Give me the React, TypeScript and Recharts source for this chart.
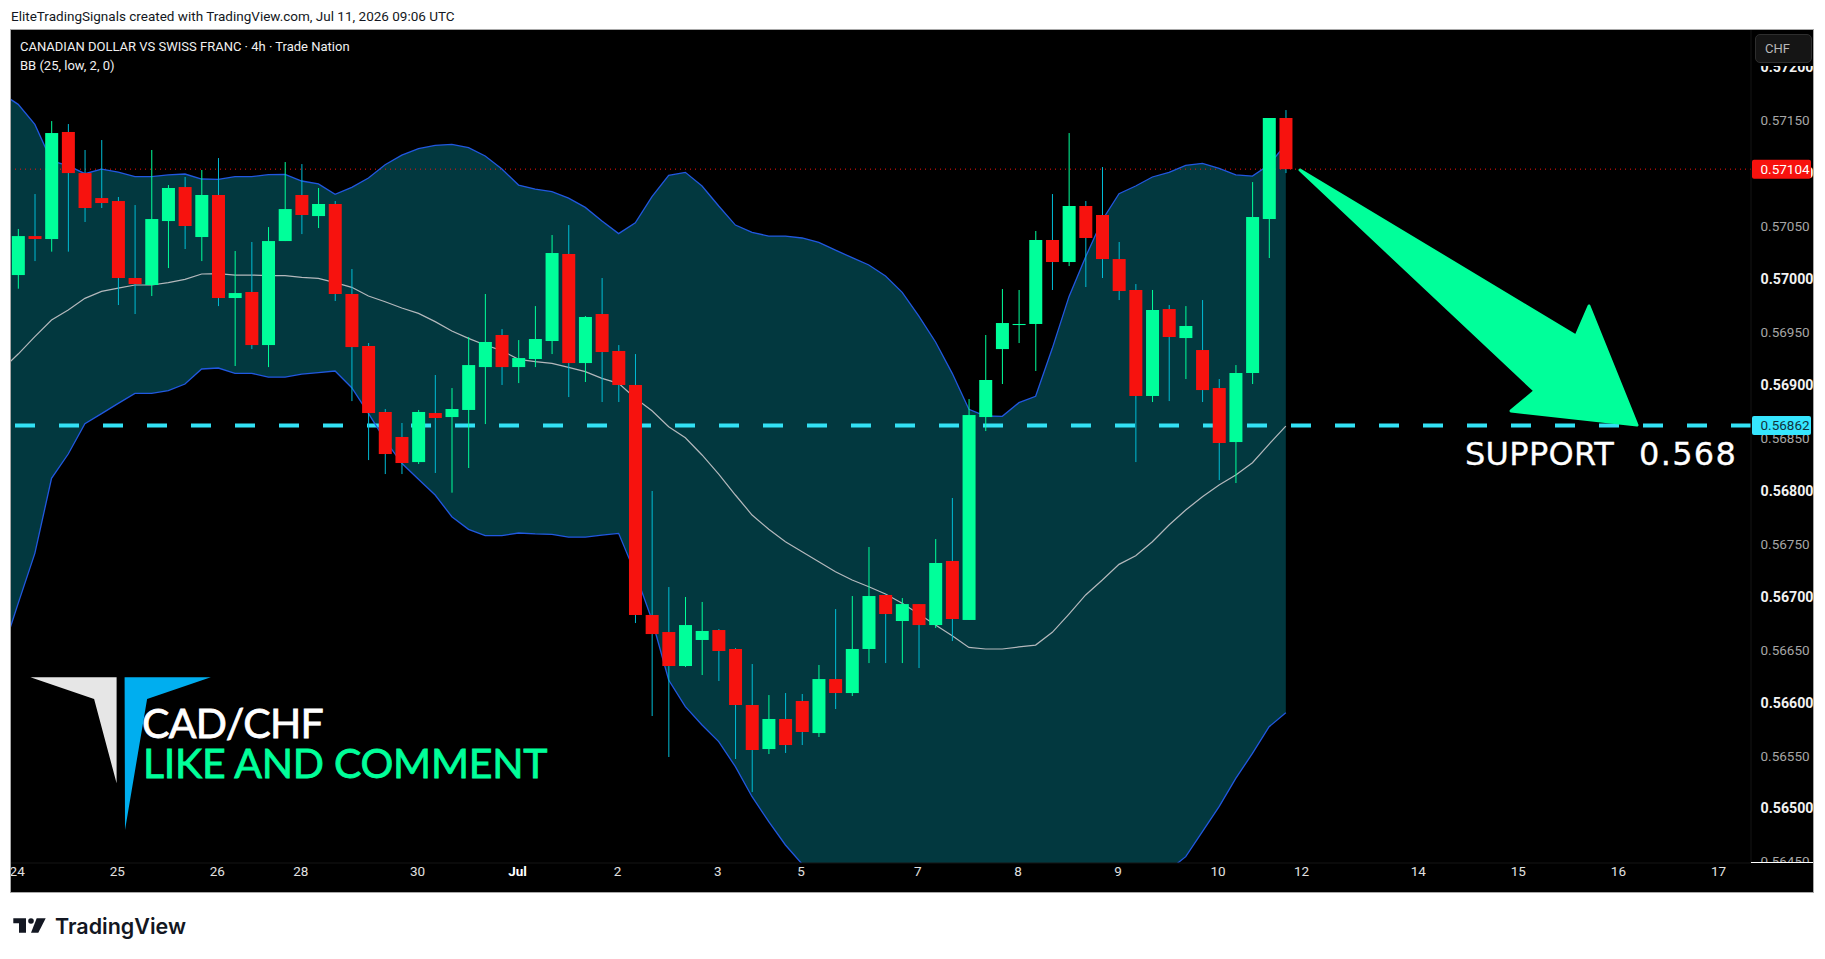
import { ComposedChart, Area, Bar, Line, XAxis, YAxis, ReferenceLine } from 'recharts'

const opens = [
  0.570040, 0.570408, 0.570380, 0.571391, 0.571003, 0.570767, 0.570739, 0.570012, 0.569946, 0.570550, 0.570871,
  0.570399, 0.570796, 0.569823, 0.569880, 0.569379, 0.570361, 0.570796, 0.570597, 0.570711, 0.569861, 0.569370,
  0.568747, 0.568511, 0.568274, 0.568737, 0.568699, 0.568766, 0.569171, 0.569474, 0.569171, 0.569247, 0.569417,
  0.570239, 0.569209, 0.569672, 0.569323, 0.569002, 0.566830, 0.566669, 0.566348, 0.566594, 0.566688, 0.566509,
  0.565980, 0.565564, 0.565848, 0.566018, 0.565715, 0.566225, 0.566093, 0.566509, 0.567019, 0.566773, 0.566933,
  0.566735, 0.567340, 0.566783, 0.568699, 0.569341, 0.569568, 0.569578, 0.570371, 0.570163, 0.570692, 0.570607,
  0.570191, 0.569899, 0.568898, 0.569719, 0.569445, 0.569332, 0.568973, 0.568463, 0.569115, 0.570569, 0.571523,
]
const highs = [
  0.570475, 0.570805, 0.571494, 0.571466, 0.571221, 0.571315, 0.570777, 0.570701, 0.571221, 0.570890, 0.570966,
  0.571032, 0.571145, 0.570267, 0.570352, 0.570493, 0.571107, 0.571088, 0.570862, 0.570739, 0.570097, 0.569398,
  0.568775, 0.568643, 0.568766, 0.569096, 0.568973, 0.569455, 0.569861, 0.569530, 0.569426, 0.569747, 0.570418,
  0.570512, 0.569653, 0.570012, 0.569379, 0.569294, 0.568001, 0.567094, 0.567000, 0.566953, 0.566697, 0.566518,
  0.566367, 0.566074, 0.566093, 0.566084, 0.566358, 0.566886, 0.567009, 0.567472, 0.567028, 0.566990, 0.566933,
  0.567547, 0.567935, 0.568869, 0.569474, 0.569908, 0.569899, 0.570456, 0.570805, 0.571381, 0.570739, 0.571060,
  0.570352, 0.569955, 0.569899, 0.569757, 0.569747, 0.569804, 0.569058, 0.569190, 0.570918, 0.571523, 0.571598,
]
const lows = [
  0.569911, 0.570172, 0.570261, 0.570261, 0.570541, 0.570673, 0.569757, 0.569672, 0.569842, 0.570106, 0.570286,
  0.570172, 0.569747, 0.569181, 0.569341, 0.569171, 0.570361, 0.570427, 0.570484, 0.569795, 0.568850, 0.568293,
  0.568161, 0.568161, 0.568256, 0.568171, 0.567985, 0.568218, 0.568633, 0.569002, 0.569020, 0.569171, 0.569294,
  0.568888, 0.569030, 0.568841, 0.568841, 0.566754, 0.565876, 0.565489, 0.566339, 0.566263, 0.566207, 0.565470,
  0.565158, 0.565517, 0.565527, 0.565602, 0.565678, 0.565942, 0.566065, 0.566376, 0.566376, 0.566376, 0.566329,
  0.566707, 0.566584, 0.566783, 0.568567, 0.569011, 0.569398, 0.569134, 0.569899, 0.570125, 0.569927, 0.570012,
  0.569804, 0.568274, 0.568841, 0.568850, 0.569058, 0.568841, 0.568104, 0.568076, 0.569011, 0.570201, 0.571003,
]
const closes = [
  0.570408, 0.570380, 0.571381, 0.571003, 0.570673, 0.570720, 0.570012, 0.569955, 0.570569, 0.570862, 0.570503,
  0.570796, 0.569823, 0.569870, 0.569379, 0.570361, 0.570663, 0.570607, 0.570711, 0.569861, 0.569360, 0.568737,
  0.568350, 0.568265, 0.568747, 0.568690, 0.568775, 0.569190, 0.569408, 0.569171, 0.569256, 0.569436, 0.570248,
  0.569209, 0.569644, 0.569313, 0.569002, 0.566830, 0.566650, 0.566348, 0.566735, 0.566679, 0.566490, 0.565980,
  0.565555, 0.565848, 0.565602, 0.565725, 0.566225, 0.566093, 0.566509, 0.567009, 0.566839, 0.566933, 0.566735,
  0.567321, 0.566792, 0.568718, 0.569049, 0.569587, 0.569578, 0.570371, 0.570163, 0.570692, 0.570390, 0.570191,
  0.569889, 0.568898, 0.569710, 0.569455, 0.569559, 0.568954, 0.568454, 0.569115, 0.570588, 0.571523, 0.571040,
]

// the bands start one bar before the first visible candle
const upperBand = [
  0.571756, 0.571652, 0.571463, 0.571117, 0.571073, 0.570997, 0.571041, 0.571013, 0.570969, 0.570969, 0.570985,
  0.570994, 0.570947, 0.570944, 0.570969, 0.570969, 0.570988, 0.570991, 0.570928, 0.570900, 0.570802, 0.570868,
  0.570956, 0.571082, 0.571173, 0.571233, 0.571265, 0.571274, 0.571243, 0.571164, 0.571041, 0.570890, 0.570852,
  0.570827, 0.570767, 0.570679, 0.570550, 0.570431, 0.570534, 0.570780, 0.570981, 0.571010, 0.570881, 0.570692,
  0.570512, 0.570443, 0.570408, 0.570408, 0.570390, 0.570349, 0.570276, 0.570204, 0.570135, 0.570031, 0.569877,
  0.569653, 0.569408, 0.569112, 0.568772, 0.568709, 0.568706, 0.568835, 0.568895, 0.569348, 0.569836, 0.570213,
  0.570560, 0.570808, 0.570881, 0.570966, 0.571010, 0.571076, 0.571095, 0.571047, 0.570985, 0.570975, 0.571082,
  0.571277,
]
const basisBand = [
  0.569143, 0.569294, 0.569458, 0.569615, 0.569710, 0.569820, 0.569886, 0.569917, 0.569946, 0.569946, 0.569968,
  0.569999, 0.570050, 0.570053, 0.570040, 0.570040, 0.570034, 0.570034, 0.570018, 0.570009, 0.569968, 0.569924,
  0.569842, 0.569788, 0.569729, 0.569678, 0.569600, 0.569511, 0.569442, 0.569379, 0.569326, 0.569244, 0.569222,
  0.569206, 0.569168, 0.569128, 0.569064, 0.569017, 0.568876, 0.568759, 0.568608, 0.568504, 0.568341, 0.568161,
  0.567963, 0.567774, 0.567639, 0.567522, 0.567428, 0.567333, 0.567239, 0.567160, 0.567097, 0.567028, 0.566940,
  0.566839, 0.566735, 0.566635, 0.566524, 0.566509, 0.566509, 0.566528, 0.566546, 0.566666, 0.566839, 0.567019,
  0.567160, 0.567308, 0.567390, 0.567522, 0.567680, 0.567821, 0.567947, 0.568057, 0.568152, 0.568268, 0.568444,
  0.568614,
]
const lowerBand = [
  0.566458, 0.566940, 0.567412, 0.568120, 0.568350, 0.568636, 0.568731, 0.568828, 0.568923, 0.568923, 0.568948,
  0.569011, 0.569153, 0.569162, 0.569112, 0.569112, 0.569077, 0.569077, 0.569105, 0.569118, 0.569134, 0.568976,
  0.568734, 0.568482, 0.568262, 0.568111, 0.567963, 0.567758, 0.567639, 0.567579, 0.567579, 0.567604, 0.567595,
  0.567591, 0.567566, 0.567566, 0.567585, 0.567601, 0.567223, 0.566783, 0.566216, 0.565964, 0.565791, 0.565634,
  0.565398, 0.565114, 0.564878, 0.564658, 0.564478, 0.564296, 0.564107, 0.563918, 0.563761, 0.563635, 0.563540,
  0.563477, 0.563430, 0.563399, 0.563383, 0.563383, 0.563383, 0.563383, 0.563415, 0.563509, 0.563603, 0.563698,
  0.563824, 0.563950, 0.564107, 0.564264, 0.564422, 0.564548, 0.564784, 0.565020, 0.565287, 0.565523, 0.565775,
  0.565907,
]

const dateTicks = [0, 6, 12, 17, 24, 30, 36, 42, 47, 54, 60, 66, 72, 77, 84, 90, 96, 102]
const dateLabels = ['24', '25', '26', '28', '30', 'Jul', '2', '3', '5', '7', '8', '9', '10', '12', '14', '15', '16', '17']
const priceTicks = [0.572, 0.5715, 0.571, 0.5705, 0.57, 0.5695, 0.569, 0.5685, 0.568, 0.5675, 0.567, 0.5665, 0.566, 0.5655, 0.565, 0.5645]
const lastPrice = 0.57104
const supportPrice = 0.56862

const RED = '#f7120e'
const GREEN = '#00ff9a'
const FONT = 'Roboto, sans-serif'

const data = upperBand.map((upper, i) => {
  const c = i - 1
  return {
    idx: c,
    upper,
    basis: basisBand[i],
    lower: lowerBand[i],
    open: c >= 0 ? opens[c] : null,
    high: c >= 0 ? highs[c] : null,
    low: c >= 0 ? lows[c] : null,
    close: c >= 0 ? closes[c] : null,
  }
})

function Candle(props: any) {
  const { x, y, width, height, payload } = props
  if (!payload || payload.open == null) return null
  const { open, high, low, close } = payload
  const up = close >= open
  const perPrice = height / (high - low)
  const top = y + (high - Math.max(open, close)) * perPrice
  const bodyH = Math.max(Math.abs(open - close) * perPrice, 1)
  const mid = x + width / 2
  return (
    <g>
      <rect x={mid - 0.5} y={y} width={1} height={height} fill={up ? GREEN : '#00bcd4'} />
      <rect x={x} y={top} width={width} height={bodyH} fill={up ? GREEN : RED} />
    </g>
  )
}

function PriceTick(props: any) {
  const { x, y, payload } = props
  const v = payload.value
  if (v === lastPrice || v === supportPrice) {
    const isLast = v === lastPrice
    return (
      <g>
        <rect x={x - 7} y={y - 9.5} width={59} height={19} rx={2} fill={isLast ? RED : '#36e6ff'} />
        <text x={x + 1.5} y={y + 4.7} fontFamily={FONT} fontSize={13.5} fill={isLast ? '#ffffff' : '#10333d'}>
          {v.toFixed(5)}
        </text>
      </g>
    )
  }
  const major = Math.round(v * 100000) % 100 === 0
  return (
    <text
      x={x + 1.5}
      y={y + 4.7}
      fontFamily={FONT}
      fontSize={major ? 14.2 : 13.5}
      fontWeight={major ? 700 : 400}
      fill={major ? '#f2f2f2' : '#a6a6a6'}
    >
      {v.toFixed(5)}
    </text>
  )
}

function DateTick(props: any) {
  const { x, y, payload } = props
  const label = dateLabels[dateTicks.indexOf(payload.value)]
  const bold = label === 'Jul'
  return (
    <text x={x - 1} y={y + 4.5} textAnchor="middle" fontFamily={FONT} fontSize={13.5} fontWeight={bold ? 700 : 400} fill={bold ? '#ffffff' : '#e0e0e0'}>
      {label}
    </text>
  )
}

export default function App() {
  return (
    <div style={{ position: 'absolute', left: 0, top: 0, width: 1825, height: 959, background: '#fff', overflow: 'hidden' }}>
      <div style={{ position: 'absolute', left: 11, top: 8, fontFamily: FONT, fontSize: 13.5, color: '#131722', whiteSpace: 'nowrap' }}>
        EliteTradingSignals created with TradingView.com, Jul 11, 2026 09:06 UTC
      </div>

      <div style={{ position: 'absolute', left: 11, top: 30, width: 1802, height: 862, background: '#000' }}>
        <ComposedChart width={1802} height={862} data={data} margin={{ top: 0, right: 0, bottom: 0, left: 0 }}>
          <XAxis
            dataKey="idx"
            type="number"
            scale="linear"
            domain={[-0.43, 103.89]}
            allowDataOverflow
            ticks={dateTicks}
            interval={0}
            height={29}
            axisLine={{ stroke: '#141414' }}
            tickLine={false}
            tick={<DateTick />}
          />
          <YAxis
            orientation="right"
            type="number"
            domain={[0.564488, 0.572354]}
            allowDataOverflow
            ticks={[...priceTicks, supportPrice, lastPrice]}
            interval={0}
            width={62}
            axisLine={{ stroke: '#141414' }}
            tickLine={false}
            tick={<PriceTick />}
          />
          <Area
            dataKey={(d: any) => [d.lower, d.upper]}
            stroke="none"
            fill="#02383f"
            fillOpacity={1}
            dot={false}
            activeDot={false}
            isAnimationActive={false}
          />
          <ReferenceLine y={lastPrice} stroke={RED} strokeWidth={1} strokeDasharray="1 4" />
          <ReferenceLine y={supportPrice} stroke="#33e1f5" strokeWidth={4} strokeDasharray="20 24" />
          <Line dataKey="basis" stroke="#b4b8bc" strokeWidth={1.2} dot={false} activeDot={false} isAnimationActive={false} />
          <Line dataKey="upper" stroke="#2158e0" strokeWidth={1.3} dot={false} activeDot={false} isAnimationActive={false} />
          <Line dataKey="lower" stroke="#2158e0" strokeWidth={1.3} dot={false} activeDot={false} isAnimationActive={false} />
          <Bar
            dataKey={(d: any) => (d.open == null ? null : [d.low, d.high])}
            barSize={13}
            shape={<Candle />}
            zIndex={450}
            isAnimationActive={false}
          />
        </ComposedChart>
      </div>

      {/* hides the lower half of the last price label, as the axis strip does */}
      <div style={{ position: 'absolute', left: 1751, top: 862, width: 62, height: 30, background: '#000', borderTop: '1px solid #fff', boxSizing: 'border-box' }} />

      {/* strip under the currency button cuts the top of the 0.57200 label */}
      <div style={{ position: 'absolute', left: 1752, top: 31, width: 61, height: 35, background: '#000' }} />
      <div
        style={{
          position: 'absolute',
          left: 1755,
          top: 34,
          width: 57,
          height: 29,
          boxSizing: 'border-box',
          background: '#151515',
          border: '1px solid #2e2e2e',
          borderRadius: 5,
          fontFamily: FONT,
          fontSize: 13,
          lineHeight: '27px',
          paddingLeft: 9,
          color: '#b8b8b8',
        }}
      >
        CHF
      </div>

      {/* frame round the chart */}
      <div style={{ position: 'absolute', left: 10, top: 29, width: 1804, height: 864, boxSizing: 'border-box', border: '1px solid #a8a8a8' }} />

      <svg width={1825} height={959} style={{ position: 'absolute', left: 0, top: 0, pointerEvents: 'none' }}>
        <text x={20} y={51} fontFamily={FONT} fontSize={13} fill="#f0f0f0">
          CANADIAN DOLLAR VS SWISS FRANC · 4h · Trade Nation
        </text>
        <text x={20} y={70} fontFamily={FONT} fontSize={13} fill="#f0f0f0">
          BB (25, low, 2, 0)
        </text>

        <polygon
          points="1300,170 1576,336 1589,306 1637,425 1511,411 1535,391"
          fill={GREEN}
          stroke={GREEN}
          strokeWidth={3}
          strokeLinejoin="round"
        />
        <text y={465} fontFamily="'DejaVu Sans', sans-serif" fontSize={32} fill="#ffffff" stroke="#ffffff" strokeWidth={0.3}>
          <tspan x={1465} letterSpacing={0.3}>SUPPORT</tspan>
          <tspan x={1639} letterSpacing={1.3}>0.568</tspan>
        </text>

        <polygon points="30.4,677.3 116.6,677.3 116.6,783.3 94.1,699" fill="#e6e6e6" />
        <polygon points="124.6,677.3 210.8,677.3 147.1,699 125,830" fill="#00aeef" />
        <text x={142} y={738} fontFamily="Lato, sans-serif" fontSize={41} letterSpacing={-0.7} fill="#ffffff" stroke="#ffffff" strokeWidth={0.8}>
          CAD/CHF
        </text>
        <text x={143} y={778} fontFamily="Lato, sans-serif" fontSize={41} letterSpacing={-0.25} fill={GREEN} stroke={GREEN} strokeWidth={0.8}>
          LIKE AND COMMENT
        </text>

        <polygon points="13.3,918.3 26,918.3 26,932.7 19,932.7 19,923.3 13.3,923.3" fill="#131722" />
        <circle cx={31} cy={921} r={2.8} fill="#131722" />
        <polygon points="36.7,918.3 45.7,918.3 38.3,932.7 31,932.7" fill="#131722" />
        <text x={55} y={933.5} fontFamily="Inter, sans-serif" fontSize={21.5} fontWeight={600} fill="#131722">
          TradingView
        </text>
      </svg>
    </div>
  )
}
